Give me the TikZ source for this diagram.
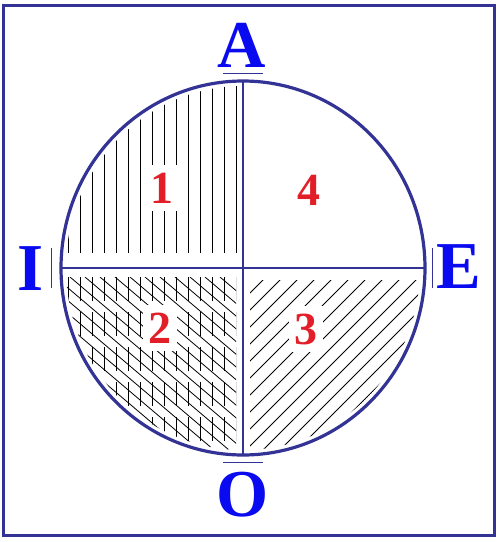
\documentclass[tikz,border=0pt]{standalone}
\usepackage{fontspec}
\setmainfont{Liberation Serif}
\usetikzlibrary{shapes.geometric}
\definecolor{rimblue}{RGB}{51,51,150}
\definecolor{vowelblue}{RGB}{10,10,240}
\definecolor{zonered}{RGB}{226,30,40}

\begin{document}
\begin{tikzpicture}[x=1pt,y=-1pt,
        rim/.style={draw=rimblue,line width=3.2pt},
        axis/.style={draw=rimblue,line width=1.1pt},
        tick/.style={draw=rimblue,line width=1pt},
        hatch/.style={draw=black,line width=0.8pt},
        vowel/.style={text=vowelblue,font=\fontsize{67}{67}\selectfont\bfseries,inner sep=0pt,anchor=base},
        zone/.style={text=zonered,font=\fontsize{46}{46}\selectfont\bfseries,fill=white,
            minimum width=34pt,minimum height=46pt,inner sep=0pt}]

    \useasboundingbox (0,0) rectangle (501,542);
    \draw[rim,line width=2.8pt] (3.5,5.5) rectangle (494.5,535.5);

    \node[ellipse,rim,minimum width=364pt,minimum height=374pt,inner sep=0pt,outer sep=0pt] (ring) at (243,268) {};

    % zone 1
    \begin{scope}
        \clip (ring.center) ellipse (177pt and 182pt);
        \clip (50,60) rectangle (238,253);
        \foreach \x in {68,80,...,236}
            \draw[hatch] (\x,60) -- (\x,253);
    \end{scope}

    % zone 2
    \begin{scope}
        \clip (ring.center) ellipse (177pt and 182pt);
        \clip (50,277) rectangle (236,470);
        \foreach \x in {68,80,...,236}
            \draw[hatch,dash pattern=on 24pt off 11pt] (\x,277) -- (\x,470);
        \foreach \x in {-50,-35,...,232}
            \draw[hatch] (\x,277) -- ++(250,212);
    \end{scope}

    % zone 3
    \begin{scope}
        \clip (ring.center) ellipse (177pt and 182pt);
        \clip (250,280) rectangle (440,470);
        \foreach \s in {526,543,...,781}
            \draw[hatch] (\s-500,500) -- (\s-250,250);
    \end{scope}

    \draw[axis] (ring.west) -- (ring.east);
    \draw[axis] (ring.north) -- (ring.south);

    % little bars beside the letters
    \draw[tick] ([xshift=-20pt,yshift=8pt]ring.north) -- ([xshift=20pt,yshift=8pt]ring.north);
    \draw[tick] ([xshift=-20pt,yshift=-7pt]ring.south) -- ([xshift=20pt,yshift=-7pt]ring.south);
    \draw[tick] ([xshift=-10pt,yshift=20pt]ring.west) -- ([xshift=-10pt,yshift=-20pt]ring.west);
    \draw[tick] ([xshift=7pt,yshift=20pt]ring.east) -- ([xshift=7pt,yshift=-20pt]ring.east);

    \node[vowel] (A) at (242,67) {A};
    \node[vowel] (O) at (243,516) {O};
    \node[vowel] (I) at (31,290) {I};
    \node[vowel] (E) at (459,288) {E};

    \node[zone] (z1) at (162,188) {1};
    \node[zone] (z2) at (160,328) {2};
    \node[zone] (z3) at (306,329) {3};
    \node[zone] (z4) at (309,190) {4};
\end{tikzpicture}
\end{document}
